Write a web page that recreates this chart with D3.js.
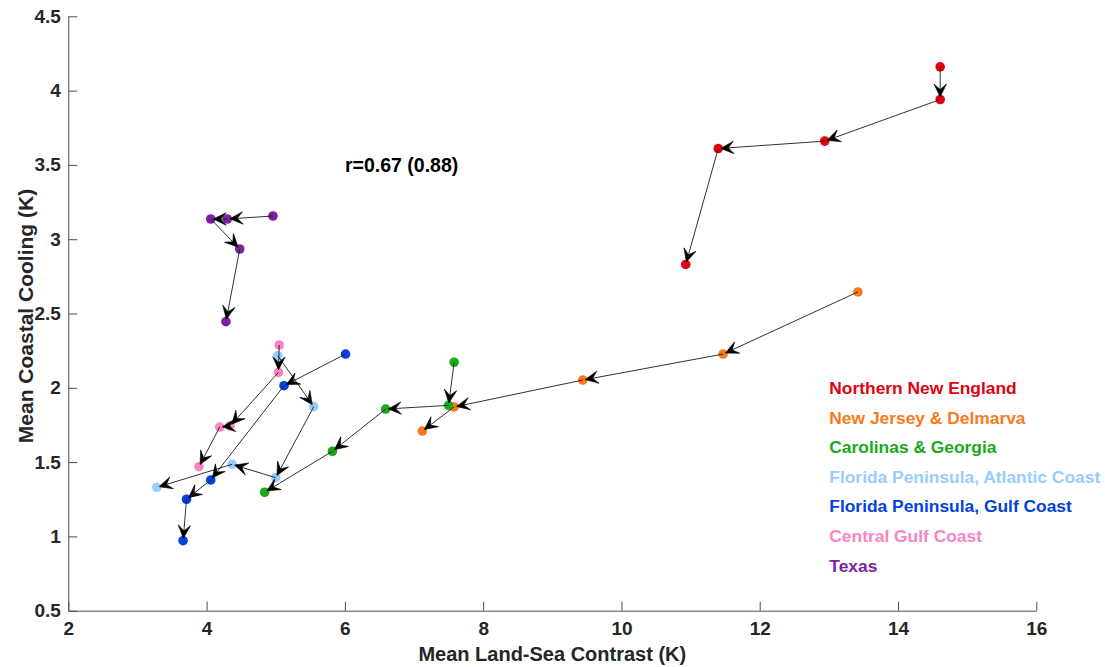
<!DOCTYPE html>
<html>
<head>
<meta charset="utf-8">
<script src="https://cdn.jsdelivr.net/npm/d3@7"></script>
<style>
  html, body { margin: 0; padding: 0; background: #fff; }
  svg { display: block; }
  text { font-family: Arial, "Liberation Sans", Helvetica, sans-serif; font-weight: bold; }
</style>
</head>
<body>
<svg id="chart" width="1105" height="667"></svg>
<script>
// Region names and their colours
const regions = [
  "Northern New England",
  "New Jersey & Delmarva",
  "Carolinas & Georgia",
  "Florida Peninsula, Atlantic Coast",
  "Florida Peninsula, Gulf Coast",
  "Central Gulf Coast",
  "Texas"
];
const regionColors = ["#e3000f", "#f97a1c", "#19a919", "#99ccff", "#0641dc", "#fb84c0", "#7b22a3"];

// Mean land-sea contrast (K) per step, in time order
const contrastNNE   = [14.61, 14.61, 12.94, 11.40, 10.93];
const contrastNJD   = [13.42, 11.47, 9.44, 7.58, 7.12];
const contrastCG    = [7.58, 7.50, 6.59, 5.82, 4.84];
const contrastFPA   = [5.03, 5.55, 5.00, 4.37, 3.28];
const contrastFPG   = [6.01, 5.12, 4.06, 3.71, 3.66];
const contrastCGC   = [5.05, 5.04, 4.34, 4.19, 3.89];
const contrastTX    = [4.96, 4.30, 4.06, 4.48, 4.28];

// Mean coastal cooling (K) per step, in time order
const coolingNNE    = [4.16, 3.94, 3.66, 3.61, 2.83];
const coolingNJD    = [2.645, 2.227, 2.052, 1.871, 1.709];
const coolingCG     = [2.172, 1.882, 1.857, 1.573, 1.297];
const coolingFPA    = [2.216, 1.873, 1.395, 1.485, 1.330];
const coolingFPG    = [2.227, 2.014, 1.380, 1.250, 0.971];
const coolingCGC    = [2.288, 2.104, 1.743, 1.736, 1.469];
const coolingTX     = [3.156, 3.136, 3.136, 2.934, 2.445];

const xTicks = [2, 4, 6, 8, 10, 12, 14, 16];
const yTicks = [0.5, 1, 1.5, 2, 2.5, 3, 3.5, 4, 4.5];
const xLabel = "Mean Land-Sea Contrast (K)";
const yLabel = "Mean Coastal Cooling (K)";
const corrText = "r=0.67 (0.88)";

const contrasts = [contrastNNE, contrastNJD, contrastCG, contrastFPA, contrastFPG, contrastCGC, contrastTX];
const coolings  = [coolingNNE, coolingNJD, coolingCG, coolingFPA, coolingFPG, coolingCGC, coolingTX];

const series = regions.map((name, i) => ({
  name,
  color: regionColors[i],
  points: contrasts[i].map((cx, j) => ({ x: cx, y: coolings[i][j] }))
}));

const svg = d3.select("#chart");
const x = d3.scaleLinear().domain([2, 16]).range([68.3, 1036.3]);
const y = d3.scaleLinear().domain([0.5, 4.5]).range([610.7, 16.3]);

const axisColor = "#4d4d4d";
const textColor = "#262626";

// Axes (ticks pointing inward, no box)
const gx = svg.append("g")
  .attr("transform", `translate(0,${y.range()[0]})`)
  .call(d3.axisBottom(x).tickValues(xTicks).tickFormat(d3.format("d"))
    .tickSizeInner(-9).tickSizeOuter(0).tickPadding(11));
const gy = svg.append("g")
  .attr("transform", `translate(${x.range()[0]},0)`)
  .call(d3.axisLeft(y).tickValues(yTicks).tickFormat(d => String(d))
    .tickSizeInner(-9).tickSizeOuter(0).tickPadding(7.5));

[gx, gy].forEach(g => {
  g.select(".domain").attr("stroke", axisColor).attr("stroke-width", 1);
  g.selectAll(".tick line").attr("stroke", axisColor).attr("stroke-width", 1);
  g.selectAll(".tick text")
    .attr("fill", textColor)
    .style("font-size", "19px")
    .style("font-family", 'Arial, "Liberation Sans", Helvetica, sans-serif')
    .style("font-weight", "bold");
});

// Axis titles
svg.append("text")
  .attr("x", (x.range()[0] + x.range()[1]) / 2)
  .attr("y", 660.5)
  .attr("text-anchor", "middle")
  .attr("fill", textColor)
  .style("font-size", "20px")
  .text(xLabel);

svg.append("text")
  .attr("transform", "translate(32.5,316) rotate(-90)")
  .attr("text-anchor", "middle")
  .attr("fill", textColor)
  .style("font-size", "21px")
  .text(yLabel);

// Markers
const markers = svg.append("g");
series.forEach(s => {
  markers.selectAll(null)
    .data(s.points)
    .enter().append("circle")
    .attr("cx", d => x(d.x))
    .attr("cy", d => y(d.y))
    .attr("r", 4.8)
    .attr("fill", s.color);
});

// Arrows joining consecutive steps
const arrows = svg.append("g");
const headLen = 13, headHalf = 6.2, notch = 7.5, tipGap = 2.5;
series.forEach(s => {
  for (let j = 0; j < s.points.length - 1; j++) {
    const x0 = x(s.points[j].x), y0 = y(s.points[j].y);
    const x1 = x(s.points[j + 1].x), y1 = y(s.points[j + 1].y);
    const dx = x1 - x0, dy = y1 - y0;
    const len = Math.hypot(dx, dy);
    const ux = dx / len, uy = dy / len;
    const tx = x1 - ux * tipGap, ty = y1 - uy * tipGap;
    arrows.append("line")
      .attr("x1", x0).attr("y1", y0)
      .attr("x2", tx - ux * notch).attr("y2", ty - uy * notch)
      .attr("stroke", "#1a1a1a")
      .attr("stroke-width", 0.9);
    const ang = Math.atan2(dy, dx) * 180 / Math.PI;
    arrows.append("path")
      .attr("d", `M0,0 L${-headLen},${-headHalf} L${-notch},0 L${-headLen},${headHalf} Z`)
      .attr("transform", `translate(${tx},${ty}) rotate(${ang})`)
      .attr("fill", "#000")
      .attr("stroke", "#000")
      .attr("stroke-width", 0.6)
      .attr("stroke-linejoin", "round");
  }
});

// Correlation annotation
svg.append("text")
  .attr("x", 345)
  .attr("y", 171.7)
  .attr("fill", "#000")
  .style("font-size", "19.5px")
  .text(corrText);

// Legend (coloured labels)
const legend = svg.append("g");
regions.forEach((name, i) => {
  legend.append("text")
    .attr("x", 829.3)
    .attr("y", 394 + i * 29.6)
    .attr("fill", regionColors[i])
    .style("font-size", "17.4px")
    .text(name);
});
</script>
</body>
</html>
